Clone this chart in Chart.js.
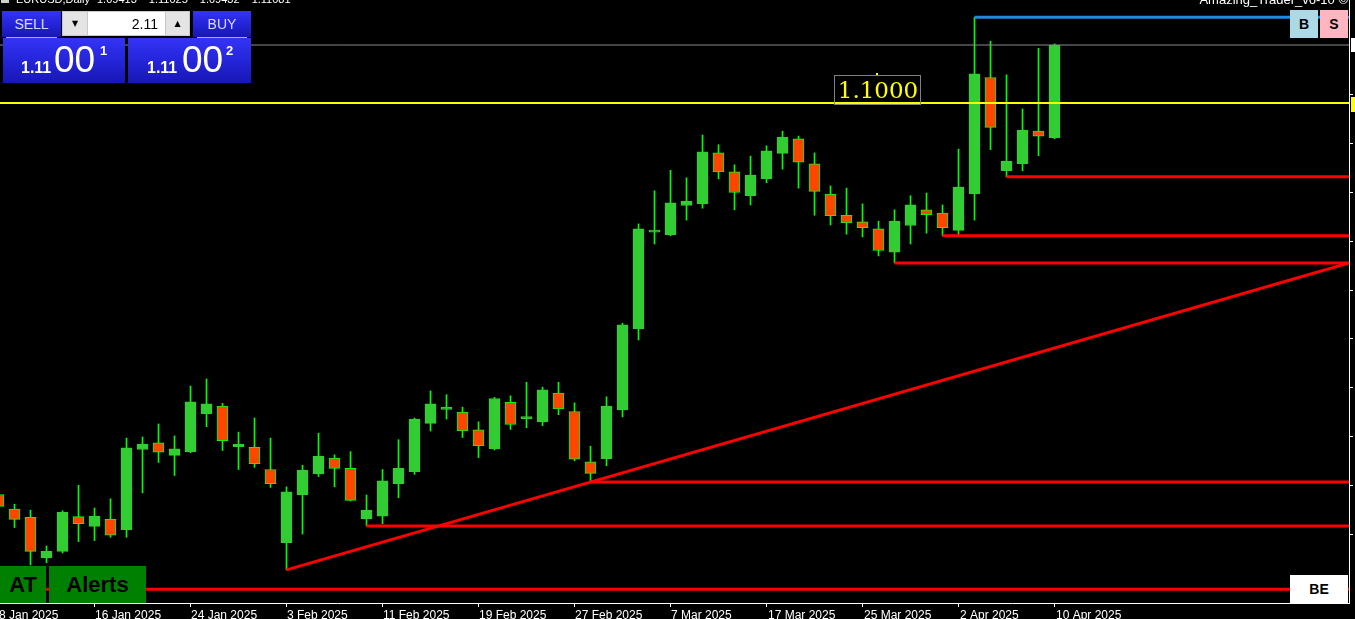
<!DOCTYPE html>
<html>
<head>
<meta charset="utf-8">
<script src="https://cdn.jsdelivr.net/npm/chart.js@4/dist/chart.umd.min.js"></script>
<style>
  html, body { margin: 0; padding: 0; background: #000; overflow: hidden; }
  #wrap { position: relative; width: 1355px; height: 619px; }
  #chart { position: absolute; left: 0; top: 0; }
  .ov { position: absolute; font-family: 'Liberation Sans', Arial, sans-serif; white-space: nowrap; }
  .blue { background: linear-gradient(to bottom, #3434f6 0%, #2323d6 55%, #1717b4 100%); color: #fff; }
  .btn { text-align: center; font-size: 14px; line-height: 26px; color: #dcdcff; }
  .spin { background: #e4e4e4; color: #000; text-align: center; font-family: 'DejaVu Sans', sans-serif; font-size: 8px; line-height: 23px; }
  .box { text-align: center; font-weight: bold; color: #000; }
</style>
</head>
<body>
<div id="wrap">
  <canvas id="chart" width="1355" height="619"></canvas>

  <!-- header texts, cut at the top edge like in the terminal -->
  <div class="ov" style="left:1px;top:-3px;width:8px;height:6px;background:#d0d0d0"></div>
  <div class="ov" style="left:16px;top:-6px;font-size:11px;line-height:11px;color:#fff">EURUSD,Daily</div>
  <div class="ov" style="left:97px;top:-6px;font-size:11px;line-height:11px;color:#fff;word-spacing:9px">1.09413 1.11025 1.09432 1.11081</div>
  <div class="ov" style="right:7px;top:-7px;font-size:13px;line-height:13px;color:#fff">Amazing_Trader_v6-10 ©</div>

  <!-- one-click trading panel -->
  <div class="ov blue btn" style="left:2px;top:11px;width:59px;height:26px">SELL</div>
  <div class="ov" style="left:6px;top:37px;width:51px;height:1px;background:#a8a8ff"></div>
  <div class="ov" style="left:62px;top:11px;width:128px;height:25px;background:#c8c8c8"></div>
  <div class="ov spin" style="left:63px;top:12px;width:24px;height:23px">▼</div>
  <div class="ov" style="left:88px;top:12px;width:77px;height:23px;background:#fff;color:#000;font-size:14px;line-height:24px;text-align:right"><span style="margin-right:7px">2.11</span></div>
  <div class="ov spin" style="left:166px;top:12px;width:23px;height:23px">▲</div>
  <div class="ov blue btn" style="left:193px;top:11px;width:58px;height:26px">BUY</div>
  <div class="ov" style="left:197px;top:37px;width:50px;height:1px;background:#a8a8ff"></div>

  <div class="ov blue" style="left:3px;top:38px;width:122px;height:45px"></div>
  <div class="ov" style="left:21px;top:60px;font-weight:bold;font-size:16px;line-height:16px;color:#fff">1.11</div>
  <div class="ov" style="left:54px;top:41px;font-size:37px;line-height:37px;color:#fff">00</div>
  <div class="ov" style="left:100px;top:44px;font-weight:bold;font-size:13px;line-height:13px;color:#fff">1</div>

  <div class="ov blue" style="left:128px;top:38px;width:123px;height:45px"></div>
  <div class="ov" style="left:147px;top:60px;font-weight:bold;font-size:16px;line-height:16px;color:#fff">1.11</div>
  <div class="ov" style="left:182px;top:41px;font-size:37px;line-height:37px;color:#fff">00</div>
  <div class="ov" style="left:226px;top:44px;font-weight:bold;font-size:13px;line-height:13px;color:#fff">2</div>

  <!-- B / S buttons -->
  <div class="ov box" style="left:1290px;top:10px;width:28px;height:28px;line-height:28px;font-size:14px;background:#add8e6">B</div>
  <div class="ov box" style="left:1320px;top:10px;width:28px;height:28px;line-height:28px;font-size:14px;background:#ffb6c1">S</div>

  <!-- bottom buttons -->
  <div class="ov box" style="left:0;top:566px;width:46px;height:37px;line-height:37px;font-size:22px;background:#008000">AT</div>
  <div class="ov box" style="left:49px;top:566px;width:97px;height:37px;line-height:37px;font-size:22px;background:#008000">Alerts</div>
  <div class="ov box" style="left:1290px;top:575px;width:58px;height:28px;line-height:28px;font-size:14px;background:#fff">BE</div>
</div>

<script>
// EURUSD daily candles, 8 Jan 2025 .. 10 Apr 2025
const opens  = [1.0278, 1.0251, 1.0236, 1.0161, 1.0173, 1.0237, 1.0219, 1.0232, 1.0213, 1.0361,
                1.0373, 1.0350, 1.0357, 1.0427, 1.0441, 1.0366, 1.0365, 1.0324, 1.0189, 1.0277,
                1.0316, 1.0345, 1.0326, 1.0233, 1.0238, 1.0298, 1.0320, 1.0409, 1.0435, 1.0430,
                1.0397, 1.0362, 1.0448, 1.0418, 1.0412, 1.0465, 1.0431, 1.0338, 1.0344, 1.0434,
                1.0584, 1.0762, 1.0757, 1.0811, 1.0814, 1.0908, 1.0873, 1.0829, 1.0860, 1.0907,
                1.0934, 1.0888, 1.0832, 1.0793, 1.0781, 1.0768, 1.0725, 1.0774, 1.0803, 1.0797,
                1.0765, 1.0833, 1.1047, 1.0875, 1.0888, 1.0948, 1.0936];
const highs  = [1.0284, 1.0260, 1.0249, 1.0183, 1.0248, 1.0295, 1.0253, 1.0270, 1.0382, 1.0384,
                1.0408, 1.0386, 1.0478, 1.0491, 1.0446, 1.0393, 1.0419, 1.0382, 1.0292, 1.0332,
                1.0391, 1.0351, 1.0357, 1.0277, 1.0324, 1.0379, 1.0419, 1.0469, 1.0462, 1.0439,
                1.0412, 1.0457, 1.0460, 1.0485, 1.0476, 1.0485, 1.0447, 1.0367, 1.0458, 1.0594,
                1.0777, 1.0838, 1.0876, 1.0862, 1.0941, 1.0923, 1.0886, 1.0902, 1.0921, 1.0948,
                1.0939, 1.0908, 1.0847, 1.0843, 1.0814, 1.0782, 1.0803, 1.0829, 1.0834, 1.0812,
                1.0915, 1.1158, 1.1114, 1.1052, 1.0989, 1.1101, 1.1109];
const lows   = [1.0251, 1.0217, 1.0148, 1.0152, 1.0170, 1.0191, 1.0193, 1.0199, 1.0199, 1.0281,
                1.0337, 1.0313, 1.0355, 1.0403, 1.0359, 1.0324, 1.0328, 1.0291, 1.0139, 1.0205,
                1.0311, 1.0292, 1.0266, 1.0220, 1.0224, 1.0272, 1.0315, 1.0395, 1.0417, 1.0383,
                1.0346, 1.0360, 1.0398, 1.0401, 1.0405, 1.0425, 1.0340, 1.0301, 1.0331, 1.0421,
                1.0563, 1.0740, 1.0755, 1.0784, 1.0806, 1.0860, 1.0803, 1.0812, 1.0853, 1.0878,
                1.0843, 1.0793, 1.0775, 1.0758, 1.0753, 1.0718, 1.0705, 1.0740, 1.0760, 1.0755,
                1.0757, 1.0784, 1.0914, 1.0864, 1.0875, 1.0903, 1.0934];
const closes = [1.0256, 1.0232, 1.0173, 1.0173, 1.0245, 1.0224, 1.0238, 1.0203, 1.0364, 1.0371,
                1.0356, 1.0362, 1.0449, 1.0445, 1.0377, 1.0371, 1.0335, 1.0298, 1.0283, 1.0323,
                1.0349, 1.0326, 1.0267, 1.0249, 1.0303, 1.0326, 1.0417, 1.0445, 1.0436, 1.0395,
                1.0368, 1.0455, 1.0407, 1.0419, 1.0471, 1.0436, 1.0343, 1.0317, 1.0441, 1.0591,
                1.0768, 1.0763, 1.0816, 1.0819, 1.0910, 1.0873, 1.0835, 1.0867, 1.0912, 1.0937,
                1.0891, 1.0837, 1.0792, 1.0779, 1.0770, 1.0728, 1.0782, 1.0812, 1.0794, 1.0770,
                1.0845, 1.1054, 1.0955, 1.0893, 1.0950, 1.0939, 1.1107];

// date axis: one label every 6 bars
const tickBars   = [0, 6, 12, 18, 24, 30, 36, 42, 48, 54, 60, 66];
const tickLabels = ['8 Jan 2025', '16 Jan 2025', '24 Jan 2025', '3 Feb 2025', '11 Feb 2025', '19 Feb 2025',
                    '27 Feb 2025', '7 Mar 2025', '17 Mar 2025', '25 Mar 2025', '2 Apr 2025', '10 Apr 2025'];
// price scale ticks (labels fall outside the window)
const priceTicks = [1.1015, 1.0925, 1.0835, 1.0745, 1.0655, 1.0565, 1.0475, 1.0385, 1.0295, 1.0205];

// drawn objects
const keyLevel = 1.1000;              // yellow line + label
const baseLevel = 1.0103;             // lowest red line
const supportBars = [23, 37, 56, 59, 63]; // red lines from these lows
const trendBars = [18, 37];           // trend line through these lows
const labelBar = 52.24;               // where the 1.1000 label sits

const X_MIN = 0.094, X_MAX = 84.406;
const Y_MIN = 1.00778, Y_MAX = 1.11900;

const last = closes.length - 1;
const topBar = highs.indexOf(Math.max(...highs));
const isBull = i => closes[i] >= opens[i];

const hLine = (x0, price, color, width) => ({
  type: 'line',
  data: [{ x: x0, y: price }, { x: X_MAX, y: price }],
  borderColor: color, borderWidth: width, pointRadius: 0, fill: false, order: 0
});

const [t0, t1] = trendBars;
const slope = (lows[t1] - lows[t0]) / (t1 - t0);

const datasets = [
  hLine(X_MIN, keyLevel, '#ffff00', 2),
  hLine(X_MIN, closes[last], '#8c8c8c', 1),
  hLine(topBar, highs[topBar], '#1e88e5', 3),
  hLine(X_MIN, baseLevel, '#ff0000', 3),
  ...supportBars.map(b => hLine(b, lows[b], '#ff0000', 3)),
  {
    type: 'line',
    data: [{ x: t0, y: lows[t0] }, { x: X_MAX, y: lows[t0] + slope * (X_MAX - t0) }],
    borderColor: '#ff0000', borderWidth: 3, pointRadius: 0, fill: false, order: 0
  },
  {
    type: 'bar',
    data: lows.map((l, i) => ({ x: i, y: [l, highs[i]] })),
    backgroundColor: '#00ff00', borderWidth: 0,
    barThickness: 1, grouped: false, order: 2
  },
  {
    type: 'bar',
    data: opens.map((o, i) => ({ x: i, y: [o, closes[i]] })),
    backgroundColor: opens.map((o, i) => isBull(i) ? '#32cd32' : '#ff4500'),
    borderColor: opens.map((o, i) => isBull(i) ? '#32cd32' : '#00ff00'),
    borderWidth: 1, borderSkipped: false,
    barThickness: 11, minBarLength: 2, grouped: false, order: 1
  }
];

// 1.1000 label, date labels and the price boxes on the right edge
const overlay = {
  id: 'overlay',
  afterDatasetsDraw(chart) {
    const { ctx, scales: { x, y } } = chart;
    const ly = Math.round(y.getPixelForValue(keyLevel));
    const lx = Math.round(x.getPixelForValue(labelBar));
    ctx.save();
    ctx.strokeStyle = '#808080';
    ctx.lineWidth = 1;
    ctx.strokeRect(lx + 0.5, ly - 28 + 0.5, 86, 29);
    ctx.fillStyle = '#ffff00';
    ctx.font = '23px "DejaVu Serif", "Liberation Serif", serif';
    ctx.textAlign = 'center';
    ctx.textBaseline = 'alphabetic';
    ctx.fillText(keyLevel.toFixed(4), lx + 44, ly - 5);
    ctx.fillRect(lx + 42, ly - 30, 2, 2);
    ctx.restore();
  },
  afterDraw(chart) {
    const { ctx, chartArea, scales: { x, y } } = chart;
    ctx.save();
    // date labels start at their tick, like the terminal draws them
    ctx.fillStyle = '#ffffff';
    ctx.font = '12px "Liberation Sans", Arial, sans-serif';
    ctx.textAlign = 'left';
    ctx.textBaseline = 'alphabetic';
    tickBars.forEach((b, i) => ctx.fillText(tickLabels[i], Math.round(x.getPixelForValue(b)) + 1, chartArea.bottom + 16));
    ctx.fillRect(chartArea.right + 2, Math.round(y.getPixelForValue(closes[last])) - 7, 10, 14);
    ctx.fillStyle = '#ffff00';
    ctx.fillRect(chartArea.right + 2, Math.round(y.getPixelForValue(keyLevel)) - 6, 10, 15);
    ctx.restore();
  }
};

new Chart(document.getElementById('chart'), {
  type: 'bar',
  data: { datasets },
  plugins: [overlay],
  options: {
    responsive: false,
    animation: false,
    devicePixelRatio: 1,
    layout: { padding: 0 },
    plugins: { legend: { display: false }, tooltip: { enabled: false } },
    scales: {
      x: {
        type: 'linear',
        min: X_MIN, max: X_MAX,
        offset: false,
        afterBuildTicks: s => { s.ticks = tickBars.map(v => ({ value: v })); },
        afterFit: s => { s.height = 16; s.paddingLeft = 0; s.paddingRight = 0; },
        ticks: { display: false },
        grid: { drawOnChartArea: false, drawTicks: true, tickLength: 4, color: '#ffffff', offset: false },
        border: { display: true, color: '#ffffff', width: 1 }
      },
      y: {
        type: 'linear',
        position: 'right',
        min: Y_MIN, max: Y_MAX,
        afterBuildTicks: s => { s.ticks = priceTicks.map(v => ({ value: v })); },
        afterFit: s => { s.width = 6; },
        ticks: { display: false },
        grid: { drawOnChartArea: false, drawTicks: true, tickLength: 4, color: '#ffffff' },
        border: { display: true, color: '#ffffff', width: 1 }
      }
    }
  }
});
</script>
</body>
</html>
